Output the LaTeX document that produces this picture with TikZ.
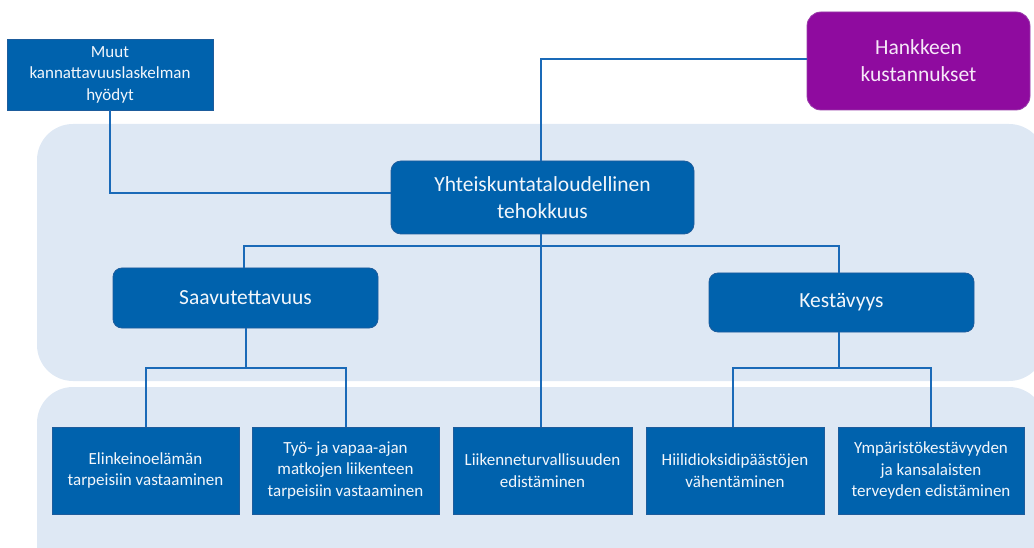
\documentclass[tikz,border=0pt]{standalone}
\usepackage{fontspec}
\setmainfont{Carlito}
\definecolor{panelc}{HTML}{DEE8F4}
\definecolor{boxc}{HTML}{0062AD}
\definecolor{boxline}{HTML}{1D5C9C}
\definecolor{linkc}{HTML}{1A6AB8}
\definecolor{purpc}{HTML}{8F0B9F}
\definecolor{purpline}{HTML}{9A3DAA}
\definecolor{purptext}{HTML}{F6E8F8}
\definecolor{boxtext}{HTML}{F2F6FB}
\tikzset{
  panel/.style={fill=panelc, rounded corners=36pt},
  bluebox/.style={draw=boxline, line width=0.8pt, fill=boxc, text=boxtext, align=center, inner sep=0pt},
  bigtext/.style={font=\fontsize{21.5}{27}\selectfont},
  smalltext/.style={font=\fontsize{17}{21.5}\selectfont},
  roundbox/.style={bluebox, rounded corners=10pt},
  purpbox/.style={draw=purpline, line width=0.8pt, fill=purpc, text=purptext, align=center, inner sep=0pt, rounded corners=14pt},
  link/.style={draw=linkc, line width=2pt}
}
\begin{document}
\begin{tikzpicture}[x=1pt,y=-1pt]
\useasboundingbox (0,0) rectangle (1034,548);
\begin{scope}
\clip (0,0) rectangle (1034,548);
\fill[panel] (37,124) rectangle (1045,381);
\fill[panel] (37,387) rectangle (1045,600);
\end{scope}

\node[bluebox, smalltext, minimum width=206pt, minimum height=71pt] (muut) at (110,74.5) {Muut\\kannattavuuslaskelman\\hyödyt};
\node[purpbox, bigtext, minimum width=223pt, minimum height=98pt] (hank) at (918.5,61) {Hankkeen\\kustannukset};
\node[roundbox, bigtext, minimum width=303pt, minimum height=73pt] (yht) at (542.5,197.5) {Yhteiskuntataloudellinen\\tehokkuus};
\node[roundbox, bigtext, rounded corners=9pt, minimum width=265pt, minimum height=60pt] (saav) at (245.5,298) {Saavutettavuus};
\node[roundbox, bigtext, rounded corners=9pt, minimum width=265pt, minimum height=59pt] (kest) at (841.5,302.5) {Kestävyys};

\node[bluebox, smalltext, minimum width=187pt, minimum height=87pt] (elin) at (145.5,470.5) {Elinkeinoelämän\\tarpeisiin vastaaminen};
\node[bluebox, smalltext, minimum width=187pt, minimum height=87pt] (tyo) at (345.5,470.5) {Työ- ja vapaa-ajan\\matkojen liikenteen\\tarpeisiin vastaaminen};
\node[bluebox, smalltext, minimum width=179pt, minimum height=87pt] (liik) at (542.5,470.5) {Liikenneturvallisuuden\\edistäminen};
\node[bluebox, smalltext, minimum width=178pt, minimum height=87pt] (hiili) at (735,470.5) {Hiilidioksidipäästöjen\\vähentäminen};
\node[bluebox, smalltext, minimum width=186pt, minimum height=87pt] (ymp) at (931,470.5) {Ympäristökestävyyden\\ja kansalaisten\\terveyden edistäminen};

\draw[link] (muut.south) |- ([yshift=4.5pt]yht.west);
\draw[link] ([yshift=2pt]hank.west) -| ([xshift=-1.5pt]yht.north);
\draw[link] ([xshift=-1.5pt]yht.south) -- ([xshift=-1.5pt]liik.north);
\draw[link] ([xshift=-1.5pt]yht.south) -- ++(0,12) -| ([xshift=-2pt]saav.north);
\draw[link] ([xshift=-1.5pt]yht.south) -- ++(0,12) -| ([xshift=-3pt]kest.north);
\draw[link] (saav.south) -- ++(0,40) -| (elin.north);
\draw[link] (saav.south) -- ++(0,40) -| (tyo.north);
\draw[link] ([xshift=-3pt]kest.south) -- ++(0,36) -| ([xshift=-2pt]hiili.north);
\draw[link] ([xshift=-3pt]kest.south) -- ++(0,36) -| (ymp.north);
\end{tikzpicture}
\end{document}
